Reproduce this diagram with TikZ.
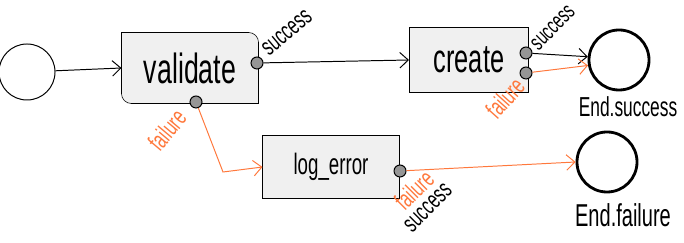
\documentclass[tikz,border=0pt]{standalone}
\usepackage{fontspec}
\setmainfont{Liberation Sans}
\usetikzlibrary{arrows.meta,backgrounds}
\definecolor{failcol}{RGB}{255,120,60}
\definecolor{boxfill}{RGB}{240,240,240}
\definecolor{portfill}{RGB}{150,150,150}
\newcommand{\hand}[2]{\scalebox{0.95}[1.5]{\fontsize{#1}{#1}\selectfont #2}}

\begin{document}
\begin{tikzpicture}[x=0.025cm,y=0.025cm,
  line width=0.7pt,
  edge/.style={-{Straight Barb[length=6pt,width=11pt]}},
  failedge/.style={edge,draw=failcol},
  taskbox/.style={rectangle,draw,fill=boxfill},
  port/.style={circle,draw,fill=portfill,inner sep=0pt,minimum size=0.3cm},
  startnode/.style={circle,draw,inner sep=0pt,minimum size=1.4cm},
  endnode/.style={circle,draw,line width=2pt,inner sep=0pt,minimum size=1.5cm},
  outlabel/.style={inner sep=0pt},
  faillabel/.style={outlabel,text=failcol}]
\useasboundingbox (0,0) rectangle (684,243);

\node[startnode] (start) at (27,171) {};

\node[minimum width=3.4cm,minimum height=1.75cm] (validate) at (190,175) {\hand{20}{validate}};
\begin{scope}[on background layer]
\draw[fill=boxfill] (validate.north west) -- ([xshift=-7pt]validate.north east)
  arc[start angle=90,end angle=0,radius=7pt] -- (validate.south east)
  -- ([xshift=7pt]validate.south west) arc[start angle=270,end angle=180,radius=7pt] -- cycle;
\end{scope}

\node[taskbox,minimum width=2.975cm,minimum height=1.6cm] (create) at (469,183) {\hand{19}{create}};
\node[taskbox,minimum width=3.4cm,minimum height=1.55cm] (logerror) at (331,76) {\hand{14}{log\_error}};

\node[port] (vsucc) at (257,180) {};
\node[port] (vfail) at (196,141) {};
\node[port] (csucc) at (526,190) {};
\node[port] (cfail) at (526,170) {};
\node[port] (lfail) at (400,72) {};

\node[endnode] (endok) at (619,183) {};
\node[endnode] (endfail) at (607,81) {};

\coordinate (fbend) at (223,71);

\draw[edge] (start) -- (validate.west);
\draw[edge] (vsucc) -- (create.west);
\draw[failedge] (vfail) -- (fbend) -- (logerror.west);
\draw[edge] (csucc) -- (endok.174);
\draw[failedge] (cfail) -- (endok.190);
\draw[failedge] (lfail) -- (endfail.west);

\node[outlabel,rotate=40] (vsucclbl) at (287,210) {\hand{12}{success}};
\node[faillabel,rotate=50] (vfaillbl) at (167,113) {\hand{12}{failure}};
\node[outlabel,rotate=45] (csucclbl) at (553,215) {\hand{11}{success}};
\node[faillabel,rotate=48] (cfaillbl) at (505,145) {\hand{12}{failure}};
\node[faillabel,rotate=45] (lfaillbl) at (414,53) {\hand{12}{failure}};
\node[outlabel,rotate=45] (lsucclbl) at (428,35) {\hand{12}{success}};
\node[outlabel] (endoklbl) at (628,136) {\hand{13}{End.success}};
\node[outlabel] (endfaillbl) at (623,28) {\hand{15}{End.failure}};
\end{tikzpicture}
\end{document}
